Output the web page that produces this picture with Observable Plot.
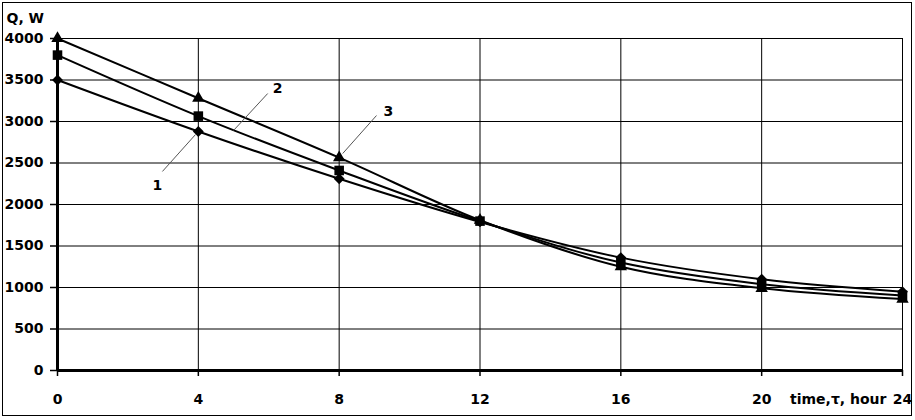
<!DOCTYPE html>
<html>
<head>
<meta charset="utf-8">
<script src="https://cdn.jsdelivr.net/npm/d3@7"></script>
<script src="https://cdn.jsdelivr.net/npm/@observablehq/plot@0.6"></script>
<style>
  html, body { margin: 0; padding: 0; background: #fff; }
  #wrap { position: relative; width: 915px; height: 420px; }
  #border { position: absolute; left: 2px; top: 2px; width: 908px; height: 412px; border: 1px solid #000; pointer-events: none; }
</style>
</head>
<body>
<div id="wrap"><div id="border"></div></div>
<script>
const hours = [0, 4, 8, 12, 16, 20, 24];
const q1 = [3500, 2880, 2310, 1790, 1360, 1100, 950];
const q2 = [3800, 3065, 2410, 1800, 1300, 1040, 905];
const q3 = [4000, 3280, 2565, 1810, 1250, 990, 860];
const xTicks = [0, 4, 8, 12, 16, 20, 24];
const yTicks = [0, 500, 1000, 1500, 2000, 2500, 3000, 3500, 4000];
const yLabel = "Q, W";
const xLabel = "time,\u03c4, hour";
// curve labels and their leader lines, in data units
const labels = [
  {text: "1", x: 2.84, y: 2229},
  {text: "2", x: 6.25, y: 3398},
  {text: "3", x: 9.4, y: 3120}
];
const leaders = [
  {x1: 2.98, y1: 2398, x2: 3.92, y2: 2843},
  {x1: 5.97, y1: 3337, x2: 5.0, y2: 2892},
  {x1: 9.06, y1: 3072, x2: 8.1, y2: 2614}
];

const series = [
  {name: "1", values: q1, symbol: "diamond2", r: 4.9},
  {name: "2", values: q2, symbol: "square", r: 5.4},
  {name: "3", values: q3, symbol: "triangle", r: 4.6}
];
const rowsOf = s => hours.map((h, i) => ({series: s.name, h, q: s.values[i]}));
const rows = series.flatMap(rowsOf);
const FONT = "'DejaVu Sans', sans-serif";

const chart = Plot.plot({
  width: 915,
  height: 420,
  marginLeft: 57,
  marginRight: 13,
  marginTop: 38,
  marginBottom: 50,
  style: {fontFamily: FONT, fontSize: "14px", fontWeight: "bold", color: "#000", background: "transparent"},
  x: {domain: [0, 24]},
  y: {domain: [0, 4000]},
  marks: [
    Plot.gridX(xTicks, {stroke: "#000", strokeOpacity: 1, strokeWidth: 1}),
    Plot.gridY(yTicks, {stroke: "#000", strokeOpacity: 1, strokeWidth: 1}),
    Plot.axisX({ticks: xTicks, tickSize: 6, tickPadding: 18, label: null, strokeWidth: 1.5, fontSize: 14, fontWeight: "bold", fontFamily: FONT, tickFormat: d3.format("d")}),
    Plot.axisY({ticks: yTicks, tickSize: 7, tickPadding: 7, label: null, strokeWidth: 1.5, fontSize: 14, fontWeight: "bold", fontFamily: FONT, tickFormat: d3.format("d")}),
    Plot.ruleX([0], {stroke: "#000", strokeWidth: 3}),
    Plot.ruleY([0], {stroke: "#000", strokeWidth: 3}),
    Plot.line(rows, {x: "h", y: "q", z: "series", stroke: "#000", strokeWidth: 2, curve: "catmull-rom"}),
    ...series.map(s => Plot.dot(rowsOf(s), {x: "h", y: "q", symbol: s.symbol, r: s.r, fill: "#000", stroke: "none"})),
    Plot.link(leaders, {x1: "x1", y1: "y1", x2: "x2", y2: "y2", stroke: "#555", strokeWidth: 1}),
    Plot.text(labels, {x: "x", y: "y", text: "text", fill: "#000", fontSize: 14, fontWeight: "bold", fontFamily: FONT}),
    Plot.text([xLabel], {x: 24, y: 0, text: d => d, textAnchor: "end", dx: -16, dy: 29, fill: "#000", fontSize: 14, fontWeight: "bold", fontFamily: FONT}),
    Plot.text([yLabel], {frameAnchor: "top-left", text: d => d, textAnchor: "start", lineAnchor: "bottom", dx: -51, dy: -16, fill: "#000", fontSize: 14, fontWeight: "bold", fontFamily: FONT})
  ]
});
chart.setAttribute("style", (chart.getAttribute("style") || "") + ";position:absolute;left:0;top:0;");
document.getElementById("wrap").prepend(chart);
</script>
</body>
</html>
